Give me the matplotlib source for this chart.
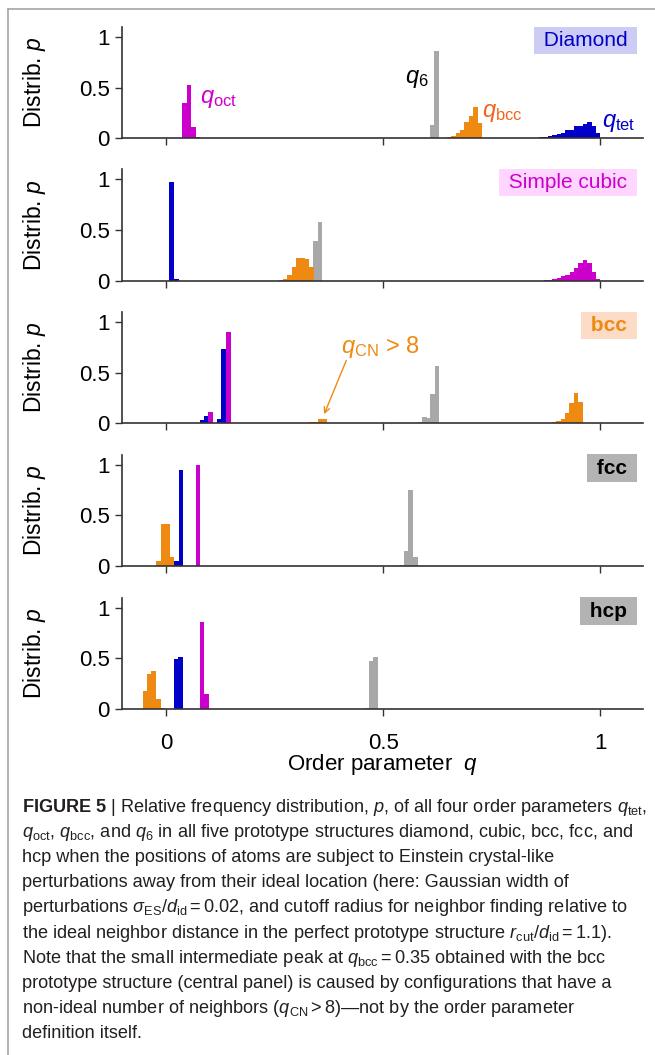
import matplotlib
matplotlib.use('Agg')
import matplotlib.pyplot as plt
from matplotlib.lines import Line2D

plt.rcParams['font.family'] = ['Liberation Sans', 'DejaVu Sans']
plt.rcParams['mathtext.fontset'] = 'custom'
plt.rcParams['mathtext.rm'] = 'Liberation Sans'
plt.rcParams['mathtext.it'] = 'Liberation Sans:italic'
plt.rcParams['mathtext.bf'] = 'Liberation Sans:bold'

# colours of the four order parameters
C_TET = '#0000C8'
C_OCT = '#CC00CC'
C_BCC = '#EE8A12'
C_Q6 = '#A8A8A8'

# --- histogram data: left bin edges and relative frequency p ---
# Diamond
dia_tet_left = [0.79, 0.80, 0.81, 0.82, 0.83, 0.84, 0.85, 0.86, 0.87, 0.88, 0.89,
                0.90, 0.91, 0.92, 0.93, 0.94, 0.95, 0.96, 0.97, 0.98, 0.99]
dia_tet_p = [0.002, 0.002, 0.003, 0.003, 0.004, 0.005, 0.006, 0.013, 0.010, 0.026, 0.033,
             0.040, 0.056, 0.080, 0.080, 0.120, 0.120, 0.140, 0.165, 0.120, 0.053]
dia_oct_left = [0.037, 0.047, 0.058, 0.068]
dia_oct_p = [0.35, 0.53, 0.11, 0.01]
dia_bcc_left = [0.647, 0.657, 0.667, 0.677, 0.687, 0.697, 0.707, 0.717]
dia_bcc_p = [0.010, 0.026, 0.056, 0.080, 0.160, 0.220, 0.310, 0.150]
dia_q6_left = [0.608, 0.618]
dia_q6_p = [0.13, 0.86]

# Simple cubic
sc_tet_left = [0.007, 0.018]
sc_tet_p = [0.974, 0.02]
sc_oct_left = [0.87, 0.88, 0.89, 0.90, 0.91, 0.92, 0.93, 0.94, 0.95, 0.96, 0.97, 0.98, 0.99]
sc_oct_p = [0.005, 0.010, 0.018, 0.030, 0.045, 0.060, 0.090, 0.130, 0.170, 0.205, 0.170, 0.085, 0.012]
sc_bcc_left = [0.259, 0.269, 0.279, 0.289, 0.299, 0.309, 0.319, 0.329]
sc_bcc_p = [0.008, 0.020, 0.060, 0.140, 0.220, 0.220, 0.215, 0.135]
sc_q6_left = [0.339, 0.349]
sc_q6_p = [0.39, 0.58]

# bcc
bcc_tet_left = [0.057, 0.067, 0.077, 0.087, 0.117, 0.127]
bcc_tet_p = [0.004, 0.004, 0.036, 0.076, 0.046, 0.729]
bcc_oct_left = [0.047, 0.097, 0.138]
bcc_oct_p = [0.004, 0.115, 0.90]
bcc_bcc_left = [-0.045, 0.328, 0.338, 0.349, 0.359, 0.369,
                0.879, 0.889, 0.899, 0.909, 0.919, 0.929, 0.939, 0.950]
bcc_bcc_p = [0.003, 0.013, 0.013, 0.045, 0.040, 0.005,
             0.005, 0.010, 0.020, 0.043, 0.099, 0.205, 0.300, 0.215]
bcc_q6_left = [0.550, 0.560, 0.570, 0.580, 0.590, 0.600, 0.609, 0.619]
bcc_q6_p = [0.003, 0.003, 0.004, 0.016, 0.066, 0.053, 0.290, 0.568]

# fcc
fcc_tet_left = [0.018, 0.029]
fcc_tet_p = [0.05, 0.944]
fcc_oct_left = [0.0675]
fcc_oct_p = [0.995]
fcc_bcc_left = [-0.023, -0.012, -0.002, 0.008]
fcc_bcc_p = [0.05, 0.413, 0.413, 0.092]
fcc_q6_left = [0.537, 0.547, 0.558, 0.569]
fcc_q6_p = [0.01, 0.148, 0.748, 0.092]

# hcp
hcp_tet_left = [0.017, 0.028]
hcp_tet_p = [0.49, 0.515]
hcp_oct_left = [0.077, 0.088]
hcp_oct_p = [0.859, 0.148]
hcp_bcc_left = [-0.054, -0.044, -0.034, -0.023, -0.013]
hcp_bcc_p = [0.177, 0.344, 0.377, 0.098, 0.01]
hcp_q6_left = [0.456, 0.467, 0.477]
hcp_q6_p = [0.01, 0.475, 0.511]

structures = ['Diamond', 'Simple cubic', 'bcc', 'fcc', 'hcp']
label_fg = [C_TET, C_OCT, C_BCC, 'black', 'black']
label_bg = ['#CCCCF5', '#FFD6FF', '#FCDCC6', '#B3B3B3', '#B3B3B3']
label_weight = ['normal', 'normal', 'bold', 'bold', 'bold']

series = [
    [(dia_q6_left, dia_q6_p, C_Q6), (dia_bcc_left, dia_bcc_p, C_BCC),
     (dia_tet_left, dia_tet_p, C_TET), (dia_oct_left, dia_oct_p, C_OCT)],
    [(sc_q6_left, sc_q6_p, C_Q6), (sc_bcc_left, sc_bcc_p, C_BCC),
     (sc_tet_left, sc_tet_p, C_TET), (sc_oct_left, sc_oct_p, C_OCT)],
    [(bcc_q6_left, bcc_q6_p, C_Q6), (bcc_bcc_left, bcc_bcc_p, C_BCC),
     (bcc_tet_left, bcc_tet_p, C_TET), (bcc_oct_left, bcc_oct_p, C_OCT)],
    [(fcc_q6_left, fcc_q6_p, C_Q6), (fcc_bcc_left, fcc_bcc_p, C_BCC),
     (fcc_tet_left, fcc_tet_p, C_TET), (fcc_oct_left, fcc_oct_p, C_OCT)],
    [(hcp_q6_left, hcp_q6_p, C_Q6), (hcp_bcc_left, hcp_bcc_p, C_BCC),
     (hcp_tet_left, hcp_tet_p, C_TET), (hcp_oct_left, hcp_oct_p, C_OCT)],
]

caption = [
    r'$\mathbf{FIGURE\ 5}$ | Relative frequency distribution, $p$, of all four order parameters $q_{\rm tet}$,',
    r'$q_{\rm oct}$, $q_{\rm bcc}$, and $q_6$ in all five prototype structures diamond, cubic, bcc, fcc, and',
    'hcp when the positions of atoms are subject to Einstein crystal-like',
    'perturbations away from their ideal location (here: Gaussian width of',
    r'perturbations $\sigma_{\rm ES}/d_{\rm id} = 0.02$, and cutoff radius for neighbor finding relative to',
    r'the ideal neighbor distance in the perfect prototype structure $r_{\rm cut}/d_{\rm id} = 1.1$).',
    r'Note that the small intermediate peak at $q_{\rm bcc} = 0.35$ obtained with the bcc',
    'prototype structure (central panel) is caused by configurations that have a',
    r'non-ideal number of neighbors ($q_{\rm CN} > 8$)—not by the order parameter',
    'definition itself.',
]

W, H = 655, 1055
fig = plt.figure(figsize=(W / 100, H / 100), dpi=100)

zero_lines = [138.3, 280.7, 423.3, 566.0, 709.0]  # pixel rows of p = 0
ax_h = 111.5

axes = []
for i, name in enumerate(structures):
    ax = fig.add_axes([122 / W, 1 - zero_lines[i] / H, 521 / W, ax_h / H])
    for left, p, c in series[i]:
        ax.bar(left, p, width=0.0105, align='edge', color=c, linewidth=0)
    ax.set_xlim(-0.102, 1.099)
    ax.set_ylim(0, 1.1)
    ax.set_yticks([0, 0.5, 1])
    ax.set_yticklabels(['0', '0.5', '1'])
    ax.set_xticks([0, 0.5, 1])
    ax.set_xticklabels(['0', '0.5', '1'])
    for s in ['top', 'right']:
        ax.spines[s].set_visible(False)
    for s in ['left', 'bottom']:
        ax.spines[s].set_color('#333333')
        ax.spines[s].set_linewidth(1.2)
    ax.tick_params(direction='out', length=5, width=1, color='#333333', labelsize=16)
    ax.tick_params(axis='x', pad=12)
    ax.tick_params(axis='y', pad=4)
    if i < 4:
        ax.tick_params(labelbottom=False)
    ax.set_ylabel(r'Distrib. $p$', fontsize=16.5)
    ax.yaxis.set_label_coords(-0.142, 0.5)
    ax.text(0.981, 0.964, ' ' + name + ' ', transform=ax.transAxes, ha='right', va='top',
            fontsize=15, color=label_fg[i], fontweight=label_weight[i],
            bbox=dict(boxstyle='square,pad=0.2', facecolor=label_bg[i], edgecolor='none'))
    axes.append(ax)

# curve labels in the diamond panel
ax = axes[0]
ax.text(0.078, 0.35, r'$q_{\rm oct}$', color=C_OCT, fontsize=17, va='baseline')
ax.text(0.605, 0.55, r'$q_6$', color='black', fontsize=17, va='baseline', ha='right')
ax.text(0.727, 0.21, r'$q_{\rm bcc}$', color='#F26419', fontsize=17, va='baseline')
ax.text(1.004, 0.11, r'$q_{\rm tet}$', color=C_TET, fontsize=17, va='baseline')

# annotation of the small intermediate peak in the bcc panel
ax = axes[2]
ax.text(0.402, 0.69, r'$q_{\rm CN}$ > 8', color=C_BCC, fontsize=17, va='baseline')
ax.annotate('', xy=(0.364, 0.09), xytext=(0.415, 0.62),
            arrowprops=dict(arrowstyle='->', color=C_BCC, lw=1, shrinkA=0, shrinkB=0))

axes[4].set_xlabel(r'Order parameter  $q$', fontsize=16)
axes[4].xaxis.set_label_coords(0.5, -0.39)

# frame lines of the figure panel
fig.add_artist(Line2D([8 / W, 8 / W], [0, 1 - 9 / H], transform=fig.transFigure,
                      color='#A6A6A6', lw=1.2))
fig.add_artist(Line2D([8 / W, 1], [1 - 9 / H, 1 - 9 / H], transform=fig.transFigure,
                      color='#A6A6A6', lw=1.2))

# caption, one text per line, scaled so the first line spans the column
texts = []
for k, line in enumerate(caption):
    y = 807 + k * 25.2
    texts.append(fig.text(22 / W, 1 - y / H, line, ha='left', va='center',
                          fontsize=11, color='#231F20'))
fig.canvas.draw()
r = fig.canvas.get_renderer()
scale = 626 / texts[0].get_window_extent(r).width
for t in texts:
    t.set_fontsize(11 * scale)

fig.savefig('out.png', dpi=100)
